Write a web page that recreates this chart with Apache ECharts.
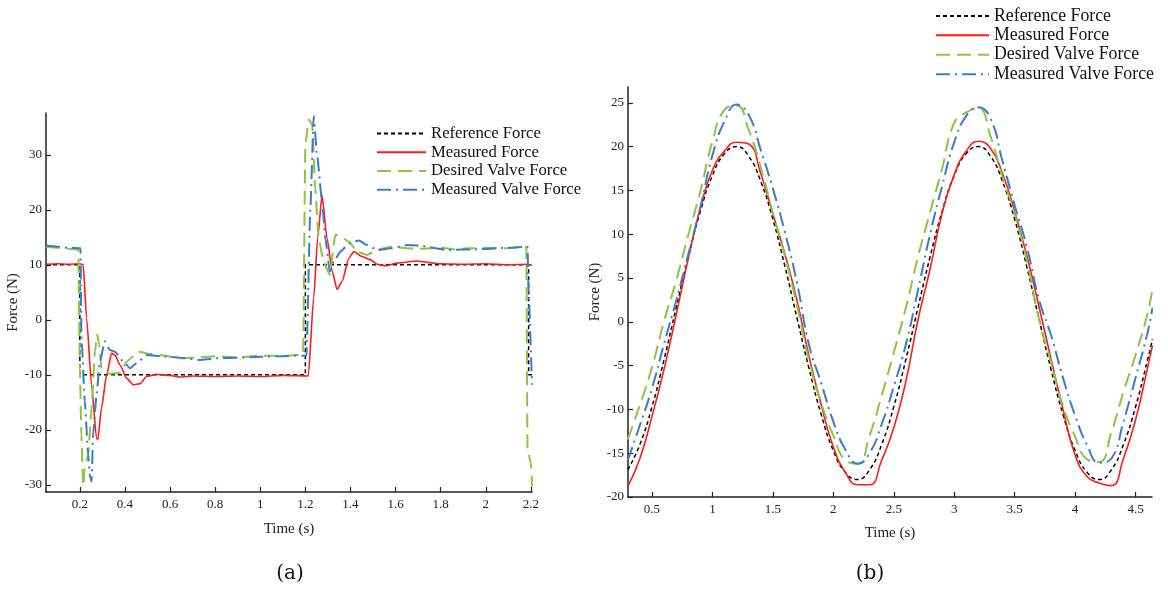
<!DOCTYPE html>
<html>
<head>
<meta charset="utf-8">
<script src="https://cdn.jsdelivr.net/npm/echarts@6/dist/echarts.min.js"></script>
<style>
  html, body { margin: 0; padding: 0; background: #fff; }
  #chart { width: 1168px; height: 590px; }
</style>
</head>
<body>
<div id="chart"></div>
<script>
// ---- (a) step response: 10 N -> -10 N -> 10 N ----
const refTimeA  = [0.05, 0.2, 0.2, 1.2, 1.2, 2.19, 2.19, 2.205];
const refForceA = [10, 10, -10, -10, 10, 10, -10, -10];

const measTimeA  = [0.05, 0.1, 0.15, 0.2, 0.215, 0.23, 0.252, 0.274, 0.28, 0.296, 0.319, 0.341, 0.356, 0.378, 0.407, 0.437, 0.467, 0.496, 0.541, 0.6, 0.644, 0.7, 0.8, 0.9, 1.0, 1.1, 1.213, 1.237, 1.255, 1.274, 1.296, 1.319, 1.341, 1.363, 1.393, 1.415, 1.452, 1.489, 1.519, 1.556, 1.607, 1.696, 1.75, 1.8, 1.9, 2.0, 2.1, 2.185, 2.205];
const measForceA = [10.1, 10.2, 10.1, 10.2, 10.0, 0.3, -11.8, -21.5, -21.8, -16.0, -10.0, -6.1, -6.4, -8.2, -10.6, -11.8, -11.6, -10.3, -9.9, -10.1, -10.4, -10.2, -10.3, -10.2, -10.3, -10.1, -10.2, 4.0, 15.0, 22.7, 14.8, 8.8, 5.5, 7.0, 11.2, 12.4, 11.5, 10.9, 10.1, 9.8, 10.3, 10.7, 10.4, 10.2, 10.1, 10.2, 10.0, 10.1, 9.9];

const desTimeA  = [0.05, 0.1, 0.15, 0.193, 0.2, 0.207, 0.215, 0.222, 0.237, 0.252, 0.267, 0.277, 0.286, 0.296, 0.311, 0.333, 0.36, 0.38, 0.407, 0.44, 0.467, 0.496, 0.556, 0.644, 0.7, 0.8, 0.9, 1.0, 1.1, 1.19, 1.2, 1.215, 1.23, 1.244, 1.259, 1.281, 1.308, 1.333, 1.356, 1.393, 1.43, 1.474, 1.519, 1.578, 1.652, 1.704, 1.8, 1.859, 1.93, 2.007, 2.1, 2.18, 2.185, 2.2, 2.205];
const desForceA = [13.3, 13.1, 12.9, 12.8, -8.8, -20.9, -30.2, -27.0, -24.5, -16.0, -5.8, -2.7, -4.5, -8.8, -9.4, -9.8, -9.7, -9.6, -7.6, -6.5, -5.8, -6.1, -6.4, -7.0, -6.9, -6.6, -6.8, -6.5, -6.6, -6.3, 31.8, 36.4, 35.5, 23.9, 14.8, 10.6, 8.2, 15.5, 15.2, 14.2, 12.4, 11.8, 12.7, 13.3, 13.0, 12.9, 13.1, 12.85, 13.0, 13.1, 13.0, 13.3, -23.6, -26.0, -30.3];

const valveTimeA  = [0.05, 0.1, 0.15, 0.203, 0.207, 0.222, 0.237, 0.244, 0.252, 0.259, 0.274, 0.289, 0.311, 0.333, 0.356, 0.393, 0.422, 0.452, 0.496, 0.556, 0.644, 0.733, 0.8, 0.9, 1.0, 1.1, 1.205, 1.222, 1.237, 1.252, 1.274, 1.289, 1.308, 1.326, 1.356, 1.393, 1.437, 1.474, 1.519, 1.578, 1.652, 1.704, 1.83, 1.978, 2.1, 2.185, 2.19, 2.205];
const valveForceA = [13.5, 13.3, 13.1, 13.0, -2.7, -14.8, -24.5, -28.2, -29.4, -20.9, -13.6, -7.6, -3.9, -5.5, -5.8, -7.6, -8.8, -7.9, -6.4, -6.6, -6.9, -7.3, -7.0, -6.9, -6.7, -6.6, -6.5, 20.0, 37.0, 30.0, 21.5, 14.8, 8.8, 10.6, 12.4, 13.9, 14.4, 13.6, 12.7, 13.0, 13.6, 13.5, 12.7, 12.85, 13.1, 13.3, 5.0, -11.8];

const xTicksA = [0.2, 0.4, 0.6, 0.8, 1, 1.2, 1.4, 1.6, 1.8, 2, 2.2];
const yTicksA = [-30, -20, -10, 0, 10, 20, 30];

// ---- (b) sinusoidal tracking ----
const timeB = [0.3, 0.4, 0.5, 0.6, 0.7, 0.8, 0.9, 1.0, 1.1, 1.2, 1.3, 1.4, 1.5, 1.6, 1.7, 1.8, 1.9, 2.0, 2.1, 2.2,
               2.3, 2.4, 2.5, 2.6, 2.7, 2.8, 2.9, 3.0, 3.1, 3.2, 3.3, 3.4, 3.5, 3.6, 3.7, 3.8, 3.9, 4.0, 4.1, 4.2,
               4.3, 4.4, 4.5, 4.6, 4.64];
const refForceB = [-16.9, -14.0, -9.7, -4.3, 1.6, 7.4, 12.6, 16.7, 19.2, 20.0, 18.9, 16.0, 11.7, 6.3, 0.4, -5.4, -10.6, -14.7, -17.2, -18.0,
                   -16.9, -14.0, -9.7, -4.3, 1.6, 7.4, 12.6, 16.7, 19.2, 20.0, 18.9, 16.0, 11.7, 6.3, 0.4, -5.4, -10.6, -14.7, -17.2, -18.0,
                   -16.9, -14.0, -9.7, -4.3, -2.0];
const measForceB = [-18.8, -15.6, -10.8, -5.4, 0.8, 7.2, 13.0, 17.3, 19.5, 20.5, 20.3, 16.9, 12.3, 7.7, 2.4, -4.0, -9.5, -14.3, -17.2, -18.6,
                    -18.6, -15.8, -12.1, -6.8, 0.2, 6.0, 12.4, 16.8, 19.5, 20.6, 19.8, 16.9, 12.6, 7.6, 1.8, -4.2, -10.0, -15.2, -17.7, -18.4,
                    -18.7, -15.6, -11.2, -5.2, -2.7];
const desForceB = [-13.4, -9.5, -5.2, 0.1, 4.7, 9.9, 14.9, 20.6, 24.2, 24.7, 21.9, 17.6, 12.4, 7.5, 1.8, -4.5, -9.3, -13.0, -15.8, -16.2,
                   -13.0, -8.4, -3.5, 1.6, 7.4, 12.5, 17.5, 22.7, 23.9, 24.4, 21.2, 16.5, 12.3, 7.0, 0.4, -4.6, -9.6, -13.1, -15.7, -16.0,
                   -12.6, -8.0, -3.8, 1.0, 3.8];
const valveForceB = [-15.8, -11.8, -7.6, -2.5, 2.4, 7.7, 13.1, 19.0, 22.9, 24.8, 23.6, 19.6, 15.2, 10.2, 4.4, -2.7, -7.0, -11.4, -14.6, -16.2,
                     -15.0, -11.7, -7.4, -2.6, 3.6, 10.0, 15.5, 20.5, 23.5, 24.5, 23.2, 18.3, 13.3, 8.6, 2.6, -1.5, -6.4, -10.7, -14.1, -16.1,
                     -15.6, -11.4, -6.4, -1.2, 1.6];

const xTicksB = [0.5, 1, 1.5, 2, 2.5, 3, 3.5, 4, 4.5];
const yTicksB = [-20, -15, -10, -5, 0, 5, 10, 15, 20, 25];

const seriesNames = ['Reference Force', 'Measured Force', 'Desired Valve Force', 'Measured Valve Force'];

// ---- styling ----
const SERIF = '"Liberation Serif", "Times New Roman", serif';
const INK = '#222';
const lineStyles = [
  { color: '#000000', width: 1.5, type: [4, 3] },
  { color: '#ff1a1a', width: 1.6, type: 'solid' },
  { color: '#8cc63e', width: 2, type: [14, 7] },
  { color: '#3b7dc4', width: 2, type: [14, 5, 2, 5] }
];

function pairs(xs, ys) { return xs.map((x, i) => [x, ys[i]]); }

function makeX(idx, min, max, ticks, gap) {
  return {
    type: 'value', gridIndex: idx, min: min, max: max,
    name: 'Time (s)', nameLocation: 'middle', nameGap: gap,
    nameTextStyle: { fontFamily: SERIF, fontSize: 15, color: INK },
    axisLine: { show: true, onZero: false, lineStyle: { color: INK, width: 1.5 } },
    axisTick: { show: true, inside: true, length: 5, customValues: ticks, lineStyle: { color: INK, width: 1.2 } },
    axisLabel: { customValues: ticks, fontFamily: SERIF, fontSize: 13, color: INK, margin: 6 },
    splitLine: { show: false }
  };
}
function makeY(idx, min, max, ticks, gap) {
  return {
    type: 'value', gridIndex: idx, min: min, max: max,
    name: 'Force (N)', nameLocation: 'middle', nameGap: gap,
    nameTextStyle: { fontFamily: SERIF, fontSize: 15, color: INK },
    axisLine: { show: true, onZero: false, lineStyle: { color: INK, width: 1.5 } },
    axisTick: { show: true, inside: true, length: 5, customValues: ticks, lineStyle: { color: INK, width: 1.2 } },
    axisLabel: { customValues: ticks, fontFamily: SERIF, fontSize: 13, color: INK, margin: 4 },
    splitLine: { show: false }
  };
}
function makeSeries(name, k, axisIdx, data, smooth, monotone) {
  const s = {
    name: name, type: 'line', xAxisIndex: axisIdx, yAxisIndex: axisIdx,
    data: data, symbol: 'none', smooth: smooth,
    lineStyle: lineStyles[k], itemStyle: { color: lineStyles[k].color },
    animation: false, z: [2, 3, 4, 5][k]
  };
  if (monotone) s.smoothMonotone = 'x';
  return s;
}
function makeLegend(left, top, fontSize, lineHeight, itemWidth) {
  return {
    data: seriesNames, orient: 'vertical', left: left, top: top, padding: 0,
    itemWidth: itemWidth, itemHeight: 8, itemGap: 0.5,
    itemStyle: { opacity: 0 },
    textStyle: { fontFamily: SERIF, fontSize: fontSize, color: '#111', lineHeight: lineHeight },
    selectedMode: false
  };
}

const chart = echarts.init(document.getElementById('chart'), null, { renderer: 'canvas' });
chart.setOption({
  animation: false,
  backgroundColor: '#ffffff',
  grid: [
    { left: 46, top: 113, width: 486, height: 379 },
    { left: 628, top: 87, width: 524, height: 410 }
  ],
  xAxis: [ makeX(0, 0.05, 2.205, xTicksA, 30), makeX(1, 0.3015, 4.636, xTicksB, 29) ],
  yAxis: [ makeY(0, -31.3, 37.6, yTicksA, 14), makeY(1, -20, 26.8, yTicksB, 24) ],
  legend: [
    makeLegend(376, 124.5, 16.7, 18.2, 49),
    makeLegend(935, 6.5, 17.8, 18.9, 53)
  ],
  series: [
    makeSeries(seriesNames[0], 0, 0, pairs(refTimeA, refForceA), false, false),
    makeSeries(seriesNames[1], 1, 0, pairs(measTimeA, measForceA), 0.2, true),
    makeSeries(seriesNames[2], 2, 0, pairs(desTimeA, desForceA), 0.15, true),
    makeSeries(seriesNames[3], 3, 0, pairs(valveTimeA, valveForceA), 0.15, true),
    makeSeries(seriesNames[0], 0, 1, pairs(timeB, refForceB), 0.5, false),
    makeSeries(seriesNames[1], 1, 1, pairs(timeB, measForceB), 0.5, false),
    makeSeries(seriesNames[2], 2, 1, pairs(timeB, desForceB), 0.5, false),
    makeSeries(seriesNames[3], 3, 1, pairs(timeB, valveForceB), 0.5, false)
  ],
  graphic: [
    { type: 'text', x: 290, y: 574, style: { text: '(a)', font: '20px "DejaVu Serif", serif', fill: '#111', align: 'center', verticalAlign: 'middle' } },
    { type: 'text', x: 870, y: 574, style: { text: '(b)', font: '20px "DejaVu Serif", serif', fill: '#111', align: 'center', verticalAlign: 'middle' } }
  ]
});
</script>
</body>
</html>
